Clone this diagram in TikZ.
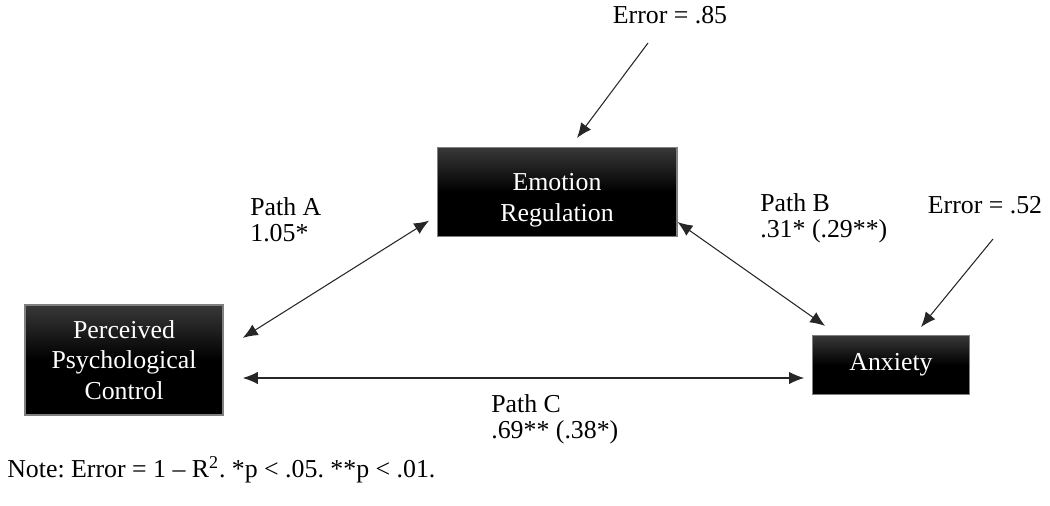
\documentclass[tikz,border=0pt]{standalone}
\usepackage{fontspec}
\setmainfont{Liberation Serif}
\usetikzlibrary{arrows.meta,calc}
\frenchspacing

\tikzset{
  varbox/.style={draw=black!50, line width=.6pt, top color=black!78, bottom color=black,
    middle color=black, text=white, align=center, inner sep=0pt,
    font=\fontsize{14.7}{17.2}\selectfont},
  lbl/.style={align=left, anchor=west, inner sep=0pt,
    font=\fontsize{14.7}{14.8}\selectfont},
  path arr/.style={{Latex[length=8.5pt,width=7pt]}-{Latex[length=8.5pt,width=7pt]}, line width=.6pt, black!85},
  err arr/.style={-{Latex[length=8.5pt,width=7pt]}, line width=.6pt, black!85}
}

\begin{document}
\begin{tikzpicture}[x=0.02cm,y=-0.02cm]
  \useasboundingbox (0,0) rectangle (1050,506);

  % variables
  \node[varbox, minimum width=4.8cm, minimum height=1.78cm] (er) at (557,192) {\rule{0pt}{19pt}Emotion\\Regulation};
  \node[varbox, minimum width=3.96cm, minimum height=2.2cm] (ppc) at (124,360) {Perceived\\Psychological\\Control};
  \node[varbox, minimum width=3.14cm, minimum height=1.18cm] (anx) at (891,365) {Anxiety};

  % error terms
  \node[lbl, anchor=center] (e1) at (670,15) {Error = .85};
  \node[lbl, anchor=center] (e2) at (985,205) {Error = .52};
  \coordinate (e1tail) at (648,43);
  \coordinate (e1tip) at (577,138);
  \coordinate (e2tail) at (993,239);
  \coordinate (e2tip) at (921,327);
  \draw[err arr] (e1tail) -- (e1tip);
  \draw[err arr] (e2tail) -- (e2tip);

  % paths
  \draw[path arr, shorten <=13pt, shorten >=5pt] ($(ppc.east)+(0,-10)$) -- ($(er.west)+(0,24)$);
  \draw[path arr, shorten <=0pt, shorten >=9pt] ($(er.east)+(0,30)$) -- ($(anx.north)+(-53,0)$);
  \draw[path arr, shorten <=11pt, shorten >=4.5pt] ($(ppc.east)+(0,18)$) -- ($(anx.west)+(0,13)$);

  \node[lbl] (pa) at (250,220) {Path A\\1.05*};
  \node[lbl] (pb) at (760,218) {Path B\\.31* (.29**)};
  \node[lbl] (pc) at (491,419) {Path C\\.69** (.38*)};

  \node[lbl] (note) at (7,470) {Note: Error = 1 -- R\textsuperscript{2}. *p {<} .05. **p {<} .01.};
\end{tikzpicture}
\end{document}
